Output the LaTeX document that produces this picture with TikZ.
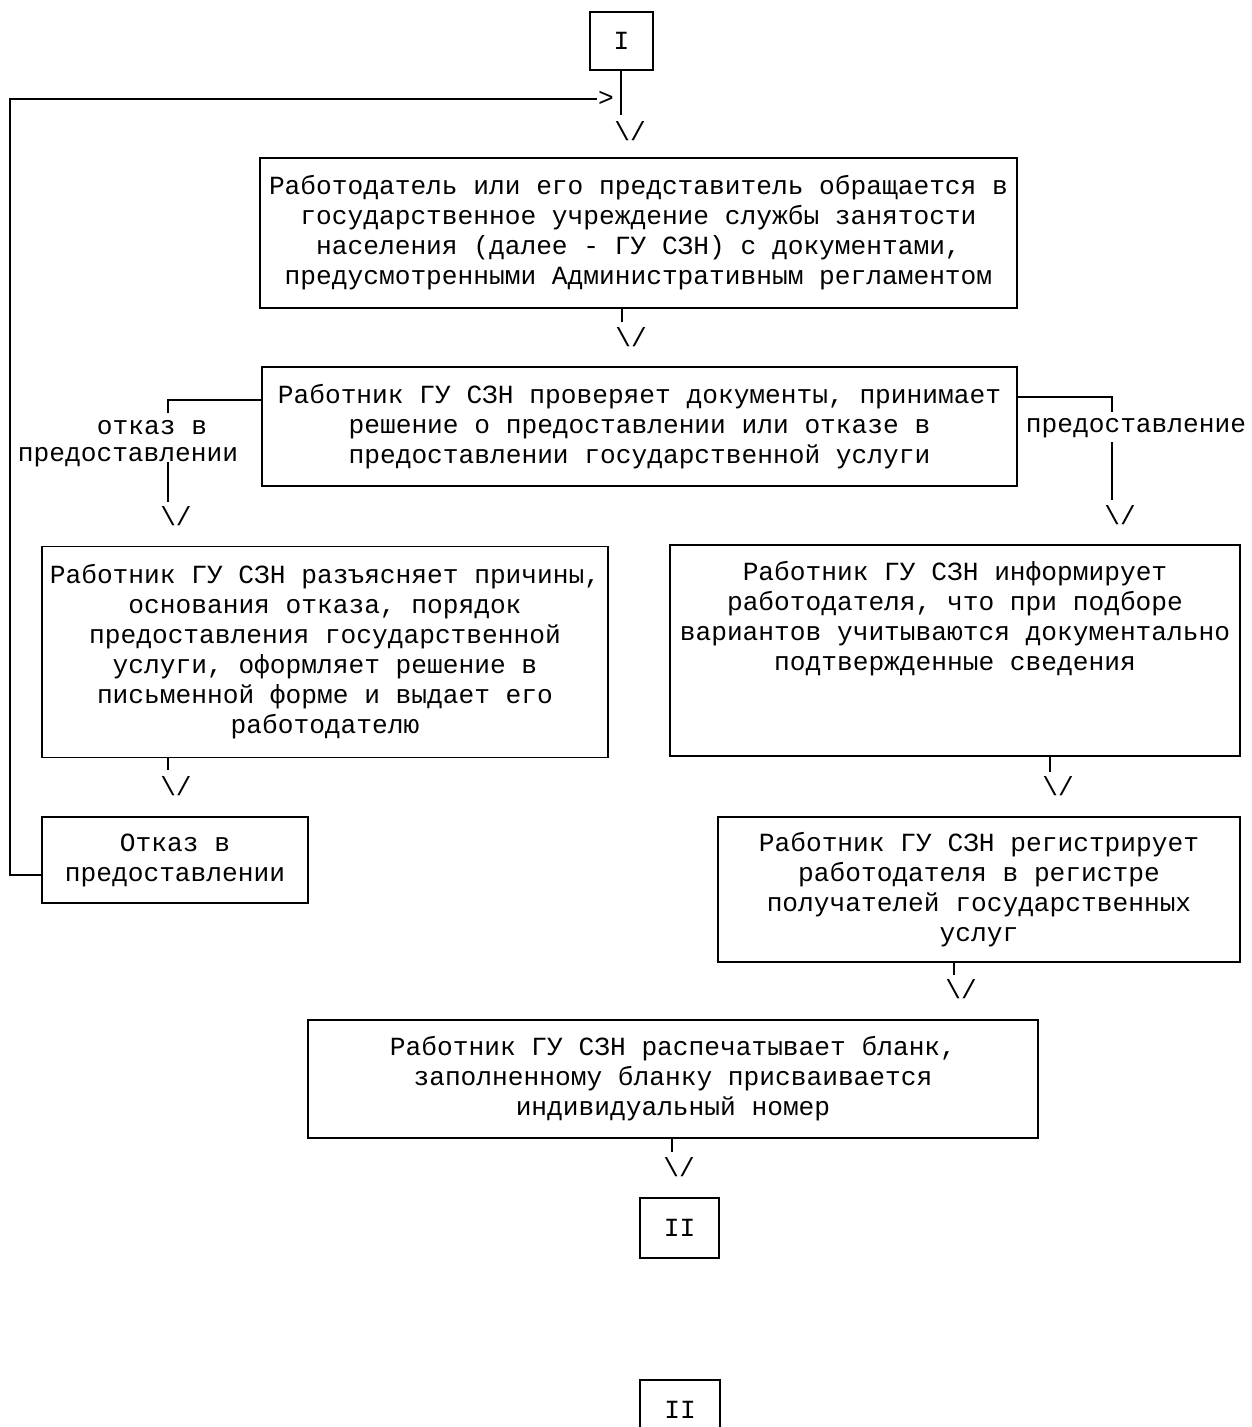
\documentclass[tikz,border=0pt]{standalone}
\usepackage{fontspec}
\newfontfamily\mono{Liberation Mono}
\newcommand{\txtfont}{\mono\fontsize{26.2}{30}\selectfont}
\begin{document}
\begin{tikzpicture}[x=1pt,y=-1pt,line width=1.8pt,
  box/.style={draw,line width=1.8pt,inner sep=0pt,align=center,font=\txtfont},
  lbl/.style={inner sep=0pt,align=center,font=\txtfont},
  tip/.style={inner sep=0pt,font=\txtfont}]
\useasboundingbox (0,0) rectangle (1251,1427);
\clip (0,0) rectangle (1251,1427);
\fill[white] (0,0) rectangle (1251,1427);

% boxes
\node[box,minimum width=63pt,minimum height=58pt] (bI) at (621.5,41) {I};
\node[box,minimum width=757pt,minimum height=150pt] (b1) at (638.5,233)
  {Работодатель или его представитель обращается в\\
   государственное учреждение службы занятости\\
   населения (далее - ГУ СЗН) с документами,\\
   предусмотренными Административным регламентом};
\node[box,minimum width=755pt,minimum height=119pt] (b2) at (639.5,426.5)
  {Работник ГУ СЗН проверяет документы, принимает\\
   решение о предоставлении или отказе в\\
   предоставлении государственной услуги};
\node[box,minimum width=566pt,minimum height=211pt] (b3) at (325,652)
  {Работник ГУ СЗН разъясняет причины,\\
   основания отказа, порядок\\
   предоставления государственной\\
   услуги, оформляет решение в\\
   письменной форме и выдает его\\
   работодателю};
\node[box,minimum width=570pt,minimum height=211pt] (b4) at (955,650.5)
  {Работник ГУ СЗН информирует\\
   работодателя, что при подборе\\
   вариантов учитываются документально\\
   подтвержденные сведения\\ \strut\\ \strut};
\node[box,minimum width=266pt,minimum height=86pt] (b5) at (175,860)
  {Отказ в\\предоставлении};
\node[box,minimum width=522pt,minimum height=145pt] (b6) at (979,889.5)
  {Работник ГУ СЗН регистрирует\\
   работодателя в регистре\\
   получателей государственных\\
   услуг};
\node[box,minimum width=730pt,minimum height=118pt] (b7) at (673,1079)
  {Работник ГУ СЗН распечатывает бланк,\\
   заполненному бланку присваивается\\
   индивидуальный номер};
\node[box,minimum width=79pt,minimum height=60pt] (bII) at (679.5,1228) {II};
\node[box,minimum width=80pt,minimum height=60pt] (bIIb) at (680,1410) {II};

% branch labels
\node[lbl] (lo1) at (152,428) {отказ в};
\node[lbl] (lo2) at (128,457) {предоставлении};
\node[lbl] (lp) at (1136,428) {предоставление};

% arrow tips (typed glyphs)
\node[tip] (aI) at (630,131) {\textbackslash/};
\node[tip] (a1) at (631,337) {\textbackslash/};
\node[tip] (al) at (176,516) {\textbackslash/};
\node[tip] (ar) at (1120,515) {\textbackslash/};
\node[tip] (a3) at (176,786) {\textbackslash/};
\node[tip] (a4) at (1058,786) {\textbackslash/};
\node[tip] (a6) at (961,989) {\textbackslash/};
\node[tip] (a7) at (679,1167) {\textbackslash/};
\node[tip] (gt) at (606,99) {>};

% coordinates
\coordinate (sI) at (621,115);
\coordinate (s1) at (622,322);
\coordinate (lt) at (168,400);
\coordinate (l1) at (168,413);
\coordinate (l2) at (168,462);
\coordinate (l3) at (168,502);
\coordinate (rt) at (1112,397);
\coordinate (r1) at (1112,412);
\coordinate (r2) at (1112,442);
\coordinate (r3) at (1112,500);
\coordinate (s3) at (168,770);
\coordinate (s4) at (1050,772);
\coordinate (s6) at (954,975);
\coordinate (s7) at (672,1152);
\coordinate (lp1) at (10,875);
\coordinate (lp2) at (10,99);

% connectors
\draw (bI.south -| sI) -- (sI);
\draw (b1.south -| s1) -- (s1);
\draw (lt -| b2.west) -- (lt) -- (l1);
\draw (l2) -- (l3);
\draw (rt -| b2.east) -- (rt) -- (r1);
\draw (r2) -- (r3);
\draw (b3.south -| s3) -- (s3);
\draw (b4.south -| s4) -- (s4);
\draw (b6.south -| s6) -- (s6);
\draw (b7.south -| s7) -- (s7);
\draw (lp1 -| b5.west) -- (lp1) -- (lp2) -- (gt.west);
\end{tikzpicture}
\end{document}
